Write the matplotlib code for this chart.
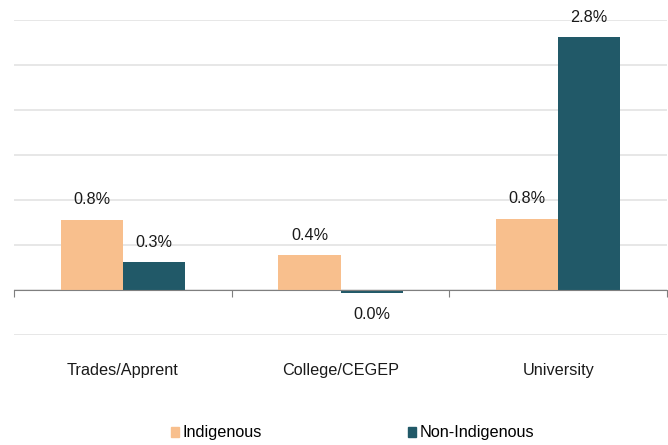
import matplotlib
matplotlib.use("Agg")
import matplotlib.pyplot as plt
import numpy as np
from matplotlib.patches import Patch

categories = ["Trades/Apprent", "College/CEGEP", "University"]
indigenous = [0.78, 0.385, 0.79]
non_indigenous = [0.31, -0.03, 2.81]
series_names = ["Indigenous", "Non-Indigenous"]

c_ind = "#F8BF8D"
c_non = "#215968"

plt.rcParams['font.family'] = ['Liberation Sans', 'DejaVu Sans']
FS = 11.7

fig = plt.figure(figsize=(6.68, 4.45), dpi=100)
ax = fig.add_axes([14/668, 1-335/445, (667-14)/668, 315/445])

x = np.arange(len(categories))
w = 0.285
b1 = ax.bar(x - w/2, indigenous, w, color=c_ind, zorder=3)
b2 = ax.bar(x + w/2, non_indigenous, w, color=c_non, zorder=3)

ax.set_xlim(-0.5, 2.5)
ax.set_ylim(-0.5, 3.0)
ax.set_yticks(np.arange(-0.5, 3.01, 0.5))
ax.yaxis.grid(True, color="#E3E3E3", linewidth=1.2, zorder=0)
ax.tick_params(axis='y', left=False, labelleft=False)
for s in ['top', 'right', 'left']:
    ax.spines[s].set_visible(False)
ax.spines['bottom'].set_position(('data', 0))
ax.spines['bottom'].set_color('#7F7F7F')
ax.spines['bottom'].set_zorder(4)
ax.set_xticks([-0.5, 0.5, 1.5, 2.5])
ax.tick_params(axis='x', direction='out', length=5, color='#7F7F7F', labelbottom=False)

for bars, vals in [(b1, indigenous), (b2, non_indigenous)]:
    for rect, v in zip(bars, vals):
        cx = rect.get_x() + rect.get_width()/2
        off = 20 if v >= 0 else -22
        ax.annotate(f"{abs(v):.1f}%", (cx, v), xytext=(0, off), textcoords='offset pixels',
                    ha='center', va='center', fontsize=FS, color='#1a1a1a')

for xi, cat in zip(x, categories):
    ax.text(xi, (335-370)/315, cat, transform=ax.get_xaxis_transform(),
            ha='center', va='center', fontsize=FS, color='#1a1a1a')

handles = [Patch(color=c_ind), Patch(color=c_non)]
fig.legend(handles, series_names, loc='center', bbox_to_anchor=(0.528, 1-433/445),
           ncol=2, frameon=False, fontsize=FS, handlelength=0.45, handleheight=0.55,
           handletextpad=0.25, columnspacing=9.0)

fig.savefig("out.png", dpi=100)
